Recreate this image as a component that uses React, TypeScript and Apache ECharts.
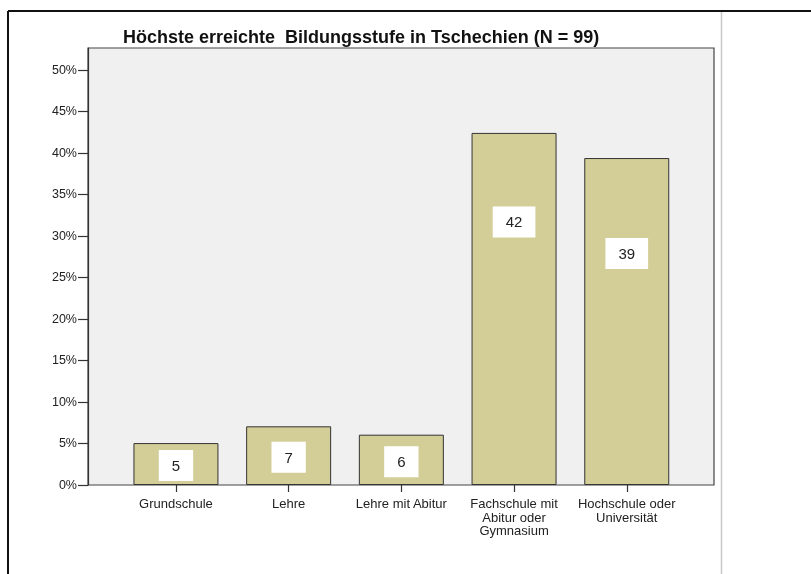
import React, { useEffect, useRef } from "react";
import * as echarts from "echarts";

const categories = [
  "Grundschule",
  "Lehre",
  "Lehre mit Abitur",
  "Fachschule mit\nAbitur oder\nGymnasium",
  "Hochschule oder\nUniversität",
];
const counts = [5, 7, 6, 42, 39];
const percents = [5.05, 7.07, 6.06, 42.42, 39.39];
const yTicks = [0, 5, 10, 15, 20, 25, 30, 35, 40, 45, 50];
const titleText = "Höchste erreichte  Bildungsstufe in Tschechien (N = 99)";

// label vertical offsets (style only)
const labelOffsetY = [1.5, 1.5, 2, -87, -68];

const FONT = "'Liberation Sans', Arial, sans-serif";

export default function App() {
  const ref = useRef<HTMLDivElement>(null);
  useEffect(() => {
    if (!ref.current) return;
    const chart = echarts.init(ref.current, undefined, { renderer: "svg" });
    const yMax = 52.65;
    chart.setOption({
      animation: false,
      textStyle: { fontFamily: FONT },
      title: {
        text: titleText,
        left: 118,
        top: 23,
        textStyle: { fontFamily: FONT, fontSize: 18, fontWeight: "bold", color: "#111" },
      },
      graphic: [
        { type: "line", shape: { x1: 8, y1: 11, x2: 811, y2: 11 }, style: { stroke: "#111", lineWidth: 2 } },
        { type: "line", shape: { x1: 8, y1: 11, x2: 8, y2: 574 }, style: { stroke: "#111", lineWidth: 2 } },
        { type: "line", shape: { x1: 721.5, y1: 12, x2: 721.5, y2: 574 }, style: { stroke: "#c8c8c8", lineWidth: 1.5 } },
      ],
      grid: [
        {
          left: 88, top: 48, width: 626, height: 437,
          show: true, backgroundColor: "#f0f0f0", borderColor: "#444", borderWidth: 1.2,
        },
        { left: 119.6, top: 48, width: 563.5, height: 437 },
      ],
      xAxis: [
        { type: "value", gridIndex: 0, show: false, min: 0, max: 1 },
        {
          type: "category",
          gridIndex: 1,
          data: categories,
          axisLine: { show: false },
          axisTick: { show: true, alignWithLabel: true, length: 7, lineStyle: { color: "#333", width: 1.2 } },
          axisLabel: { interval: 0, fontSize: 13, color: "#222", lineHeight: 13.5, margin: 12, fontFamily: FONT },
          splitLine: { show: false },
        },
      ],
      yAxis: [
        {
          type: "value",
          gridIndex: 0,
          min: 0,
          max: yMax,
          axisLine: { show: true, lineStyle: { color: "#333", width: 1.2 } },
          axisTick: { show: true, length: 10, customValues: yTicks, lineStyle: { color: "#333", width: 1.2 } },
          axisLabel: {
            customValues: yTicks,
            formatter: (v: number) => `${v}%`,
            fontSize: 12.5,
            color: "#222",
            margin: 11,
            fontFamily: FONT,
          },
          splitLine: { show: false },
        },
        { type: "value", gridIndex: 1, min: 0, max: yMax, show: false },
      ],
      series: [
        {
          type: "bar",
          xAxisIndex: 1,
          yAxisIndex: 1,
          barWidth: 85,
          itemStyle: { color: "#d3ce98", borderColor: "#333", borderWidth: 1 },
          data: percents.map((p, i) => ({
            value: p,
            label: { offset: [0, labelOffsetY[i]] },
          })),
          label: {
            show: true,
            position: "inside",
            formatter: (p: any) => String(counts[p.dataIndex]),
            backgroundColor: "#ffffff",
            padding: [8, 13],
            fontSize: 15,
            color: "#222",
            fontFamily: FONT,
          },
        },
      ],
    });
    return () => chart.dispose();
  }, []);
  return <div ref={ref} style={{ position: "fixed", left: 0, top: 0, width: 811, height: 574 }} />;
}
